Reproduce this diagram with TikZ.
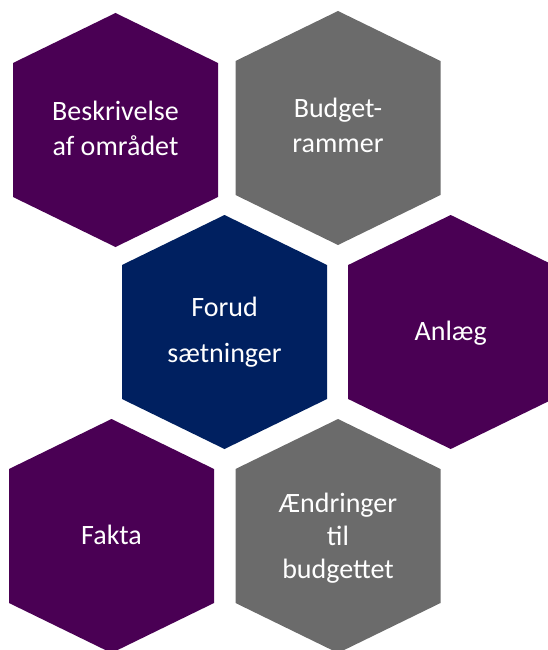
\documentclass[tikz,border=0pt]{standalone}
\usepackage{fontspec}
\setmainfont{Carlito}
\definecolor{hexpurple}{RGB}{74,0,84}
\definecolor{hexgray}{RGB}{107,107,107}
\definecolor{hexnavy}{RGB}{0,32,96}
\newcommand\hexshape[3]{\fill[#3] (#1,#2) ++(0,-117) -- ++(102.5,50) -- ++(0,134) -- ++(-102.5,50) -- ++(-102.5,-50) -- ++(0,-134) -- cycle;}
\begin{document}
\begin{tikzpicture}[x=1pt,y=-1pt,
  lbl/.style={anchor=base,inner sep=0pt,text=white,font=\fontsize{28}{34}\selectfont}]
\useasboundingbox (0,0) rectangle (548,650);
\begin{scope}
\clip (0,0) rectangle (548,650);
\hexshape{115.5}{130}{hexpurple}
\hexshape{338}{128}{hexgray}
\hexshape{224.5}{332}{hexnavy}
\hexshape{450.7}{332}{hexpurple}
\hexshape{111.5}{536}{hexpurple}
\hexshape{338}{536}{hexgray}
\end{scope}
\node[lbl] (b1) at (115.5,120.7) {Beskrivelse};
\node[lbl] (b2) at (115.5,155) {af området};
\node[lbl] (r1) at (338,117.3) {Budget-};
\node[lbl] (r2) at (338,152.7) {rammer};
\node[lbl] (f1) at (224.5,316.7) {Forud};
\node[lbl] (f2) at (224.5,362.7) {sætninger};
\node[lbl] (a1) at (450.7,340) {Anlæg};
\node[lbl] (k1) at (111.5,544) {Fakta};
\node[lbl] (e1) at (338,512) {Ændringer};
\node[lbl] (e2) at (338,545) {til};
\node[lbl] (e3) at (338,578) {budgettet};
\end{tikzpicture}
\end{document}
